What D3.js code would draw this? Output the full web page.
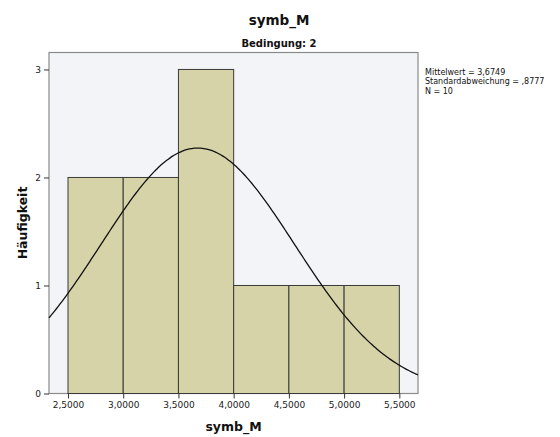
<!DOCTYPE html>
<html><head><meta charset="utf-8">
<script src="https://cdn.jsdelivr.net/npm/d3@7"></script>
<style>body{margin:0;background:#fff}svg{display:block}text{font-family:"DejaVu Sans",sans-serif}</style>
</head><body>
<svg id="c" width="560" height="437"></svg>
<script>
const binStarts = [2.5, 3.0, 3.5, 4.0, 4.5, 5.0];
const binWidth = 0.5;
const counts = [2, 2, 3, 1, 1, 1];
const xTicks = [2.5, 3.0, 3.5, 4.0, 4.5, 5.0, 5.5];
const yTicks = [0, 1, 2, 3];
const meanVal = 3.6749, sdVal = 0.8777, nVal = 10;
const statLines = ["Mittelwert = 3,6749", "Standardabweichung = ,8777", "N = 10"];

const svg = d3.select("#c");
const L = 49, R = 418, T = 52.5, B = 393.5;
const x = d3.scaleLinear().domain([2.328, 5.669]).range([L, R]);
const y = d3.scaleLinear().domain([0, 3.157]).range([B, T]);

svg.append("rect").attr("x", L).attr("y", T).attr("width", R - L).attr("height", B - T)
  .attr("fill", "#f3f4f7").attr("stroke", "#8a8a8a").attr("stroke-width", 1.2);

svg.append("g").selectAll("rect").data(binStarts).join("rect")
  .attr("x", d => x(d)).attr("width", d => x(d + binWidth) - x(d))
  .attr("y", (d, i) => y(counts[i])).attr("height", (d, i) => y(0) - y(counts[i]))
  .attr("fill", "#d6d3a8").attr("stroke", "#3a3a3a").attr("stroke-width", 1);

const norm = v => nVal * binWidth * Math.exp(-0.5 * ((v - meanVal) / sdVal) ** 2) / (sdVal * Math.sqrt(2 * Math.PI));
const xs = d3.range(0, 201).map(i => 2.328 + (5.669 - 2.328) * i / 200);
svg.append("path").datum(xs)
  .attr("d", d3.line().x(d => x(d)).y(d => y(norm(d))).curve(d3.curveBasis))
  .attr("fill", "none").attr("stroke", "#111").attr("stroke-width", 1.3);

const fmt = v => v.toFixed(4).replace(".", ",");
const xa = svg.append("g").attr("transform", `translate(0,${B})`)
  .call(d3.axisBottom(x).tickValues(xTicks).tickFormat(fmt).tickSize(5).tickPadding(3));
xa.select(".domain").remove();
xa.selectAll("line").attr("stroke", "#333");
xa.selectAll("text").attr("font-size", 9).attr("fill", "#222").style("font-family", "DejaVu Sans");

const ya = svg.append("g").attr("transform", `translate(${L},0)`)
  .call(d3.axisLeft(y).tickValues(yTicks).tickFormat(d3.format("d")).tickSize(5).tickPadding(3));
ya.select(".domain").remove();
ya.selectAll("line").attr("stroke", "#333");
ya.selectAll("text").attr("font-size", 9).attr("fill", "#222").style("font-family", "DejaVu Sans");

svg.append("text").attr("x", 279).attr("y", 25).attr("text-anchor", "middle")
  .attr("font-size", 13.5).attr("font-weight", "bold").attr("fill", "#111").text("symb_M");
svg.append("text").attr("x", 279).attr("y", 47).attr("text-anchor", "middle")
  .attr("font-size", 10).attr("font-weight", "bold").attr("fill", "#111").text("Bedingung: 2");
svg.append("text").attr("x", (L + R) / 2).attr("y", 431).attr("text-anchor", "middle")
  .attr("font-size", 12.5).attr("font-weight", "bold").attr("fill", "#111").text("symb_M");
svg.append("text").attr("transform", `translate(27,${(T + B) / 2}) rotate(-90)`).attr("text-anchor", "middle")
  .attr("font-size", 12.5).attr("font-weight", "bold").attr("fill", "#111").text("Häufigkeit");

svg.append("g").selectAll("text").data(statLines).join("text")
  .attr("x", 425).attr("y", (d, i) => 75 + i * 9.4)
  .attr("font-size", 8).attr("fill", "#111").text(d => d);
</script>
</body></html>
